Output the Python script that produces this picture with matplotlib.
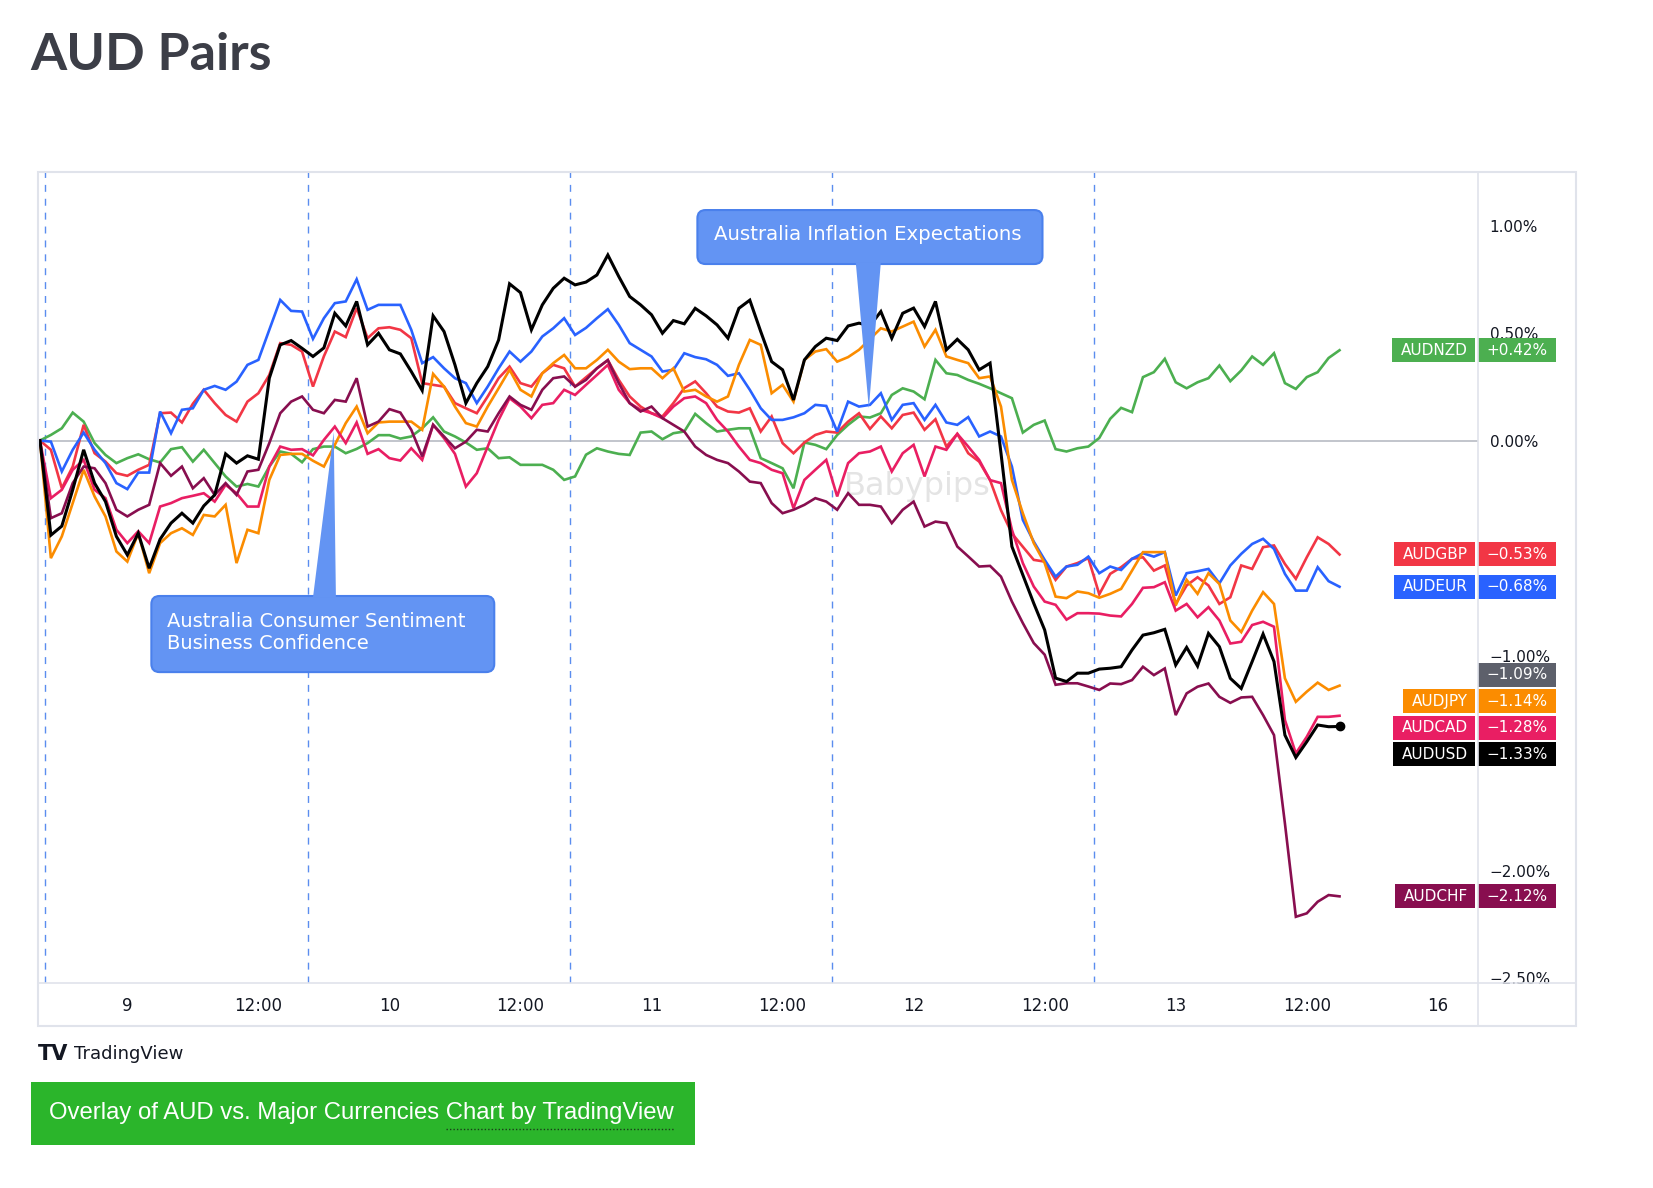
import matplotlib
matplotlib.use("Agg")
import matplotlib.pyplot as plt
import matplotlib.transforms as mtransforms
from matplotlib.patches import Rectangle, FancyBboxPatch, Polygon

W, H = 1653, 1188

# hourly % change since open, bar index 0..119
audnzd = [0.000, 0.026, 0.057, 0.130, 0.088, -0.012, -0.067, -0.105, -0.082, -0.064,
          -0.087, -0.102, -0.040, -0.031, -0.098, -0.043, -0.105, -0.167, -0.214, -0.202,
          -0.214, -0.121, -0.051, -0.062, -0.101, -0.040, -0.028, -0.028, -0.059, -0.039,
          -0.012, 0.025, 0.025, 0.009, 0.019, 0.057, 0.108, 0.042, 0.019, -0.009,
          -0.043, -0.036, -0.082, -0.078, -0.113, -0.113, -0.113, -0.136, -0.183, -0.167,
          -0.066, -0.036, -0.051, -0.062, -0.067, 0.037, 0.042, 0.006, 0.034, 0.042,
          0.124, 0.081, 0.042, 0.050, 0.057, 0.057, -0.082, -0.105, -0.129, -0.222,
          -0.009, -0.020, -0.040, 0.026, 0.073, 0.112, 0.107, 0.127, 0.212, 0.243,
          0.228, 0.192, 0.375, 0.313, 0.305, 0.282, 0.264, 0.243, 0.220, 0.197,
          0.037, 0.073, 0.093, -0.040, -0.051, -0.036, -0.028, 0.012, 0.101, 0.152,
          0.132, 0.295, 0.318, 0.380, 0.271, 0.243, 0.271, 0.290, 0.349, 0.276,
          0.326, 0.391, 0.352, 0.406, 0.267, 0.240, 0.295, 0.318, 0.384, 0.420]
audgbp = [0.000, -0.043, -0.222, -0.121, 0.073, -0.059, -0.098, -0.152, -0.164, -0.136,
          -0.113, 0.127, 0.130, 0.084, 0.171, 0.236, 0.174, 0.119, 0.088, 0.181,
          0.220, 0.305, 0.453, 0.445, 0.414, 0.251, 0.392, 0.507, 0.481, 0.616,
          0.476, 0.522, 0.527, 0.515, 0.476, 0.267, 0.259, 0.251, 0.174, 0.150,
          0.127, 0.205, 0.290, 0.344, 0.267, 0.251, 0.313, 0.352, 0.336, 0.251,
          0.294, 0.336, 0.374, 0.282, 0.205, 0.158, 0.127, 0.112, 0.174, 0.244,
          0.275, 0.220, 0.158, 0.135, 0.130, 0.150, 0.042, 0.112, -0.012, -0.059,
          -0.009, 0.026, 0.042, 0.037, 0.088, 0.127, 0.054, 0.112, 0.057, 0.119,
          0.130, 0.050, 0.099, -0.028, 0.031, -0.059, -0.098, -0.184, -0.324, -0.432,
          -0.494, -0.555, -0.563, -0.648, -0.586, -0.570, -0.547, -0.715, -0.620, -0.589,
          -0.550, -0.543, -0.605, -0.581, -0.760, -0.674, -0.636, -0.674, -0.760, -0.729,
          -0.581, -0.597, -0.496, -0.488, -0.574, -0.643, -0.543, -0.450, -0.481, -0.530]
audeur = [0.000, -0.005, -0.144, -0.043, 0.037, -0.043, -0.105, -0.198, -0.226, -0.149,
          -0.149, 0.135, 0.034, 0.143, 0.150, 0.236, 0.254, 0.236, 0.274, 0.352,
          0.375, 0.515, 0.654, 0.603, 0.600, 0.473, 0.569, 0.639, 0.647, 0.750,
          0.608, 0.631, 0.631, 0.631, 0.515, 0.360, 0.388, 0.336, 0.290, 0.267,
          0.174, 0.251, 0.336, 0.414, 0.367, 0.414, 0.484, 0.522, 0.569, 0.491,
          0.524, 0.569, 0.611, 0.538, 0.453, 0.422, 0.391, 0.321, 0.329, 0.406,
          0.388, 0.378, 0.352, 0.301, 0.313, 0.236, 0.150, 0.096, 0.096, 0.108,
          0.127, 0.166, 0.161, 0.042, 0.181, 0.158, 0.166, 0.220, 0.096, 0.166,
          0.174, 0.096, 0.166, 0.084, 0.073, 0.109, 0.019, 0.042, 0.019, -0.121,
          -0.369, -0.470, -0.555, -0.633, -0.586, -0.578, -0.540, -0.617, -0.586, -0.602,
          -0.550, -0.524, -0.540, -0.519, -0.721, -0.617, -0.608, -0.597, -0.664, -0.581,
          -0.527, -0.481, -0.457, -0.504, -0.620, -0.698, -0.698, -0.589, -0.654, -0.680]
audjpy = [0.000, -0.547, -0.446, -0.291, -0.136, -0.260, -0.353, -0.516, -0.563, -0.431,
          -0.617, -0.477, -0.431, -0.408, -0.439, -0.346, -0.353, -0.299, -0.570, -0.415,
          -0.431, -0.183, -0.067, -0.062, -0.062, -0.094, -0.121, -0.020, 0.081, 0.158,
          0.034, 0.084, 0.088, 0.088, 0.088, 0.050, 0.310, 0.251, 0.158, 0.081,
          0.065, 0.158, 0.243, 0.329, 0.236, 0.205, 0.313, 0.360, 0.398, 0.336,
          0.336, 0.375, 0.422, 0.367, 0.332, 0.336, 0.336, 0.290, 0.336, 0.228,
          0.236, 0.205, 0.181, 0.205, 0.352, 0.468, 0.445, 0.220, 0.259, 0.181,
          0.375, 0.414, 0.425, 0.367, 0.388, 0.422, 0.472, 0.522, 0.507, 0.530,
          0.553, 0.437, 0.515, 0.391, 0.375, 0.360, 0.290, 0.298, 0.158, -0.183,
          -0.338, -0.477, -0.570, -0.726, -0.733, -0.702, -0.710, -0.731, -0.713, -0.690,
          -0.605, -0.519, -0.519, -0.519, -0.767, -0.648, -0.713, -0.617, -0.667, -0.837,
          -0.891, -0.791, -0.705, -0.760, -1.106, -1.215, -1.168, -1.126, -1.160, -1.140]
audcad = [0.000, -0.268, -0.229, -0.136, -0.090, -0.229, -0.268, -0.415, -0.477, -0.422,
          -0.477, -0.307, -0.291, -0.268, -0.257, -0.245, -0.284, -0.206, -0.245, -0.307,
          -0.307, -0.121, -0.028, -0.043, -0.040, -0.069, 0.003, 0.065, -0.012, 0.084,
          -0.062, -0.040, -0.082, -0.093, -0.036, -0.090, 0.073, 0.011, -0.062, -0.214,
          -0.152, -0.028, 0.096, 0.197, 0.158, 0.104, 0.166, 0.174, 0.236, 0.212,
          0.259, 0.305, 0.352, 0.236, 0.174, 0.143, 0.127, 0.104, 0.158, 0.197,
          0.205, 0.174, 0.096, 0.042, -0.028, -0.090, -0.105, -0.136, -0.152, -0.315,
          -0.183, -0.136, -0.090, -0.260, -0.105, -0.059, -0.051, -0.028, -0.144, -0.059,
          -0.020, -0.167, -0.028, -0.043, 0.031, -0.028, -0.090, -0.184, -0.198, -0.415,
          -0.570, -0.679, -0.749, -0.764, -0.833, -0.803, -0.803, -0.805, -0.814, -0.818,
          -0.760, -0.685, -0.682, -0.659, -0.791, -0.760, -0.822, -0.775, -0.837, -0.944,
          -0.936, -0.858, -0.843, -0.866, -1.300, -1.455, -1.378, -1.285, -1.285, -1.280]
audusd = [0.000, -0.440, -0.398, -0.229, -0.043, -0.198, -0.284, -0.446, -0.532, -0.431,
          -0.594, -0.459, -0.384, -0.338, -0.384, -0.304, -0.253, -0.062, -0.105, -0.071,
          -0.087, 0.290, 0.445, 0.465, 0.429, 0.391, 0.431, 0.592, 0.533, 0.647,
          0.445, 0.499, 0.422, 0.403, 0.321, 0.233, 0.580, 0.507, 0.352, 0.174,
          0.267, 0.344, 0.468, 0.729, 0.688, 0.515, 0.631, 0.708, 0.755, 0.724,
          0.737, 0.770, 0.863, 0.763, 0.670, 0.631, 0.585, 0.499, 0.558, 0.543,
          0.615, 0.580, 0.538, 0.476, 0.615, 0.653, 0.507, 0.367, 0.329, 0.189,
          0.375, 0.437, 0.476, 0.465, 0.533, 0.546, 0.534, 0.600, 0.476, 0.592,
          0.616, 0.530, 0.647, 0.422, 0.471, 0.422, 0.329, 0.360, -0.059, -0.493,
          -0.625, -0.757, -0.881, -1.105, -1.121, -1.082, -1.082, -1.063, -1.059, -1.052,
          -0.974, -0.905, -0.894, -0.878, -1.044, -0.962, -1.049, -0.897, -0.959, -1.106,
          -1.153, -1.028, -0.900, -1.028, -1.370, -1.474, -1.401, -1.323, -1.331, -1.330]
audchf = [0.000, -0.361, -0.338, -0.198, -0.121, -0.129, -0.198, -0.322, -0.353, -0.322,
          -0.299, -0.105, -0.164, -0.121, -0.222, -0.175, -0.253, -0.198, -0.253, -0.144,
          -0.136, -0.012, 0.127, 0.181, 0.205, 0.143, 0.127, 0.189, 0.181, 0.290,
          0.065, 0.088, 0.146, 0.130, 0.050, -0.074, 0.073, 0.019, -0.036, -0.005,
          0.050, 0.042, 0.127, 0.205, 0.166, 0.143, 0.236, 0.290, 0.298, 0.251,
          0.282, 0.336, 0.374, 0.267, 0.174, 0.135, 0.158, 0.104, 0.073, 0.042,
          -0.028, -0.067, -0.090, -0.105, -0.144, -0.191, -0.198, -0.291, -0.338, -0.322,
          -0.299, -0.268, -0.284, -0.322, -0.245, -0.299, -0.299, -0.307, -0.384, -0.322,
          -0.284, -0.400, -0.377, -0.384, -0.493, -0.539, -0.586, -0.583, -0.633, -0.749,
          -0.849, -0.942, -0.996, -1.136, -1.129, -1.129, -1.144, -1.160, -1.130, -1.133,
          -1.114, -1.052, -1.091, -1.060, -1.277, -1.176, -1.145, -1.130, -1.192, -1.220,
          -1.195, -1.192, -1.277, -1.370, -1.781, -2.215, -2.199, -2.145, -2.114, -2.120]

pairs = ["AUDNZD", "AUDGBP", "AUDEUR", "AUDJPY", "AUDCAD", "AUDCHF", "AUDUSD"]
series = [audnzd, audgbp, audeur, audjpy, audcad, audchf, audusd]
colors = ["#4caf50", "#f23645", "#2962ff", "#fb8c00", "#e91e63", "#880e4f", "#000000"]
grey_value = -1.09

xtick_labels = ["9", "12:00", "10", "12:00", "11", "12:00", "12", "12:00", "13", "12:00", "16"]
xtick_pos = [8 + 12 * k for k in range(len(xtick_labels))]
ytick_vals = [1.0, 0.5, 0.0, -0.5, -1.0, -2.0, -2.5]
session_breaks = [0.5, 24.5, 48.5, 72.5, 96.5]

fig = plt.figure(figsize=(W / 100, H / 100), dpi=100)
fig.patch.set_facecolor("white")

# plot area in pixels: x 38..1478, y 172..983
ax = fig.add_axes([38 / W, 1 - 983 / H, 1440 / W, 811 / H])
ax.set_xlim(-0.18, 131.68)
ax.set_ylim(-2.523, 1.249)
for s in ax.spines.values():
    s.set_visible(False)

for xb in session_breaks:
    ax.axvline(xb, color="#5b8def", lw=1, ls=(0, (5, 5)), zorder=1)
ax.axhline(0, color="#b2b5be", lw=1.1, zorder=1)

ax.text(80.3, -0.216, "Babypips", fontsize=23, color="#e4e4e4",
        ha="center", va="center", zorder=1)

xs = list(range(len(audusd)))
for name, vals, c in zip(pairs, series, colors):
    lw = 2.2 if name == "AUDUSD" else 1.9
    ax.plot(xs, vals, color=c, lw=lw, zorder=3, solid_joinstyle="miter")
ax.plot(xs[-1], audusd[-1], "o", color="black", ms=6, zorder=4)

ax.set_xticks(xtick_pos, xtick_labels)
ax.tick_params(axis="x", length=0, pad=10, labelsize=12, labelcolor="#131722")
ax.yaxis.tick_right()
ax.set_yticks(ytick_vals, [f"{v:.2f}%".replace("-", "\u2212") for v in ytick_vals])
ax.tick_params(axis="y", length=0, pad=8.5, labelsize=11, labelcolor="#131722")

# callouts
bubble_fc, bubble_ec = "#6394f3", "#4a80ec"
asp = 10.92 / 215
box1 = FancyBboxPatch((60.2, 0.821), 31.6, 0.251, boxstyle="round,pad=0,rounding_size=0.75",
                      mutation_aspect=asp, fc=bubble_fc, ec=bubble_ec, lw=1.5, zorder=5)
ax.add_patch(box1)
ax.add_patch(Polygon([(74.7, 0.83), (77.0, 0.83), (75.9, 0.15)], closed=True,
                     fc=bubble_fc, ec="none", zorder=5))
ax.text(75.8, 0.956, "Australia Inflation Expectations", color="white", fontsize=14.2,
        ha="center", va="center", zorder=6)

box2 = FancyBboxPatch((10.2, -1.077), 31.4, 0.354, boxstyle="round,pad=0,rounding_size=0.75",
                      mutation_aspect=asp, fc=bubble_fc, ec=bubble_ec, lw=1.5, zorder=5)
ax.add_patch(box2)
ax.add_patch(Polygon([(25.0, -0.73), (27.1, -0.73), (26.9, 0.04)], closed=True,
                     fc=bubble_fc, ec="none", zorder=5))
ax.text(11.6, -0.840, "Australia Consumer Sentiment", color="white", fontsize=14,
        ha="left", va="center", zorder=6)
ax.text(11.6, -0.942, "Business Confidence", color="white", fontsize=14,
        ha="left", va="center", zorder=6)

# price-scale labels, stacked so they don't overlap
blend = mtransforms.blended_transform_factory(ax.transAxes, ax.transData)
px = 1 / 1440
box_h = 24 / 215
gap = 0.123
labels = [(n, v[-1], c) for n, v, c in zip(pairs, series, colors)]
labels.append((None, grey_value, "#5d606b"))
labels.sort(key=lambda t: -t[1])
renderer = fig.canvas.get_renderer()
prev = None
for name, val, c in labels:
    y = val if prev is None else min(val, prev - gap)
    prev = y
    txt = f"{val:+.2f}%".replace("-", "\u2212")
    ax.add_patch(Rectangle((1.0, y - box_h / 2), 78 * px, box_h, transform=blend,
                           fc=c, ec="none", clip_on=False, zorder=7))
    ax.text(1.0 + 39 * px, y, txt, transform=blend, color="white", fontsize=11,
            ha="center", va="center", clip_on=False, zorder=8)
    if name:
        t = ax.text(1.0 - 10 * px, y, name, transform=blend, color="white", fontsize=11,
                    ha="right", va="center", clip_on=False, zorder=8)
        tw = t.get_window_extent(renderer).width
        ax.add_patch(Rectangle((1.0 - 3 * px - (tw + 16) * px, y - box_h / 2), (tw + 16) * px,
                               box_h, transform=blend, fc=c, ec="none", clip_on=False, zorder=7))

# page decorations in pixel coordinates
ov = fig.add_axes([0, 0, 1, 1])
ov.set_xlim(0, W)
ov.set_ylim(H, 0)
ov.axis("off")
frame = "#e0e3eb"
ov.add_patch(Rectangle((38, 172), 1538, 854, fill=False, ec=frame, lw=1.5))
ov.plot([1478, 1478], [172, 1026], color=frame, lw=1.2)
ov.plot([38, 1576], [983, 983], color=frame, lw=1.2)

ov.text(30, 70, "AUD Pairs", fontsize=37.5, fontweight="bold", family="Lato",
        color="#3c3e47", ha="left", va="baseline")

ov.text(38, 1054, "TV", fontsize=15, fontweight="heavy", color="#131722",
        ha="left", va="center")
ov.text(74, 1054, "TradingView", fontsize=13, color="#131722", ha="left", va="center")

ov.add_patch(Rectangle((31, 1082), 664, 63, fc="#2bb52b", ec="none"))
full = ov.text(49, 1113, "Overlay of AUD vs. Major Currencies Chart by TradingView",
               fontsize=17.2, family="Liberation Sans", color="white", ha="left", va="center")
part = ov.text(0, -100, "Chart by TradingView", fontsize=17.2, family="Liberation Sans")
x1 = full.get_window_extent(renderer).x1
w2 = part.get_window_extent(renderer).width
part.remove()
ov.plot([x1 - w2, x1], [1129, 1129], color="#1a3d1a", lw=1, ls=(0, (1, 1.5)))

fig.savefig("out.png", dpi=100)
